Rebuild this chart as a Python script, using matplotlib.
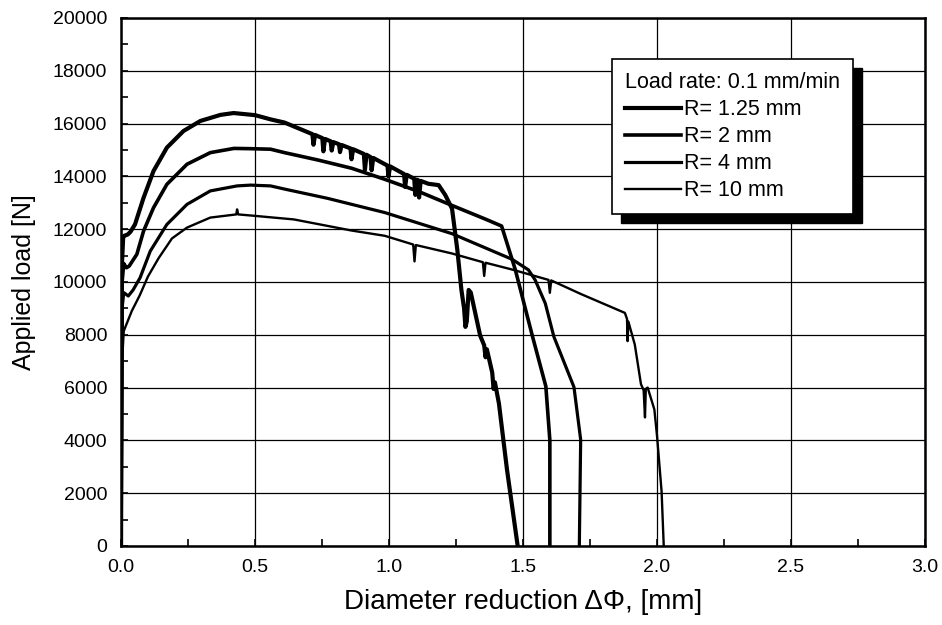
import matplotlib
matplotlib.use("Agg")
import matplotlib.pyplot as plt
from matplotlib.lines import Line2D
from matplotlib.patches import Rectangle
from matplotlib.transforms import IdentityTransform
from matplotlib.ticker import MultipleLocator

plt.rcParams['font.family'] = ['Liberation Sans', 'DejaVu Sans']

# ---- data ----
x_r125 = [0, 0.003, 0.008, 0.012, 0.025, 0.035, 0.052, 0.084, 0.121, 0.171, 0.233, 0.296,
          0.371, 0.42, 0.5, 0.558, 0.61, 0.674,
          0.714, 0.718, 0.724, 0.751, 0.755, 0.761, 0.782, 0.786, 0.792, 0.813, 0.817, 0.823,
          0.856, 0.86, 0.866, 0.906, 0.91, 0.916, 0.931, 0.935, 0.941, 0.994, 0.998, 1.004,
          1.056, 1.06, 1.066, 1.094, 1.098, 1.104, 1.108, 1.112, 1.118,
          1.147, 1.185, 1.21, 1.235, 1.255, 1.27, 1.28, 1.285, 1.29, 1.297, 1.305, 1.32,
          1.34, 1.355, 1.36, 1.365, 1.385, 1.39, 1.395, 1.41, 1.44, 1.48]
y_r125 = [0, 10600, 11700, 11750, 11800, 11900, 12180, 13190, 14200, 15090, 15720, 16100,
          16330, 16400, 16320, 16160, 16040, 15770,
          15600, 15200, 15570, 15450, 14950, 15420, 15330, 14980, 15300, 15220, 14920, 15190,
          15060, 14650, 15030, 14850, 14250, 14820, 14730, 14230, 14700, 14410, 14000, 14380,
          14090, 13600, 14060, 13910, 13300, 13880, 13860, 13200, 13830,
          13720, 13670, 13290, 12780, 11200, 9700, 9000, 8300, 8500, 9700, 9600, 8900,
          7970, 7600, 7150, 7450, 6570, 5950, 6200, 5400, 2900, 0]

x_r2 = [0, 0.004, 0.01, 0.02, 0.03, 0.059, 0.084, 0.121, 0.171, 0.246, 0.333, 0.421, 0.483,
        0.558, 0.61, 0.735, 0.86, 0.984, 1.11, 1.235, 1.36, 1.42, 1.471, 1.503, 1.535, 1.585,
        1.60, 1.60]
y_r2 = [0, 10000, 10700, 10540, 10600, 11050, 11930, 12810, 13700, 14460, 14900, 15060, 15050,
        15030, 14900, 14620, 14310, 13890, 13430, 12900, 12380, 12120, 10470, 9210, 7950, 6050,
        4010, 0]

x_r4 = [0, 0.004, 0.01, 0.027, 0.045, 0.071, 0.109, 0.171, 0.246, 0.333, 0.433, 0.483, 0.558,
        0.61, 0.77, 0.984, 1.235, 1.459, 1.52, 1.545, 1.583, 1.615, 1.69, 1.715, 1.71]
y_r4 = [0, 9000, 9600, 9470, 9700, 10160, 11170, 12180, 12940, 13450, 13640, 13670, 13640,
        13520, 13170, 12630, 11830, 10860, 10460, 10080, 9190, 7930, 6020, 4030, 0]

x_r10 = [0, 0.004, 0.01, 0.04, 0.07, 0.1, 0.14, 0.19, 0.246, 0.333, 0.43, 0.433, 0.437, 0.483,
         0.645, 0.86, 0.984, 1.09, 1.095, 1.10, 1.235, 1.35, 1.355, 1.36, 1.46, 1.595, 1.60,
         1.605, 1.717, 1.88, 1.888, 1.89, 1.893, 1.917, 1.94, 1.95, 1.955, 1.958, 1.965, 1.99,
         2.0, 2.017, 2.025]
y_r10 = [0, 7000, 8140, 8900, 9500, 10200, 10900, 11650, 12060, 12440, 12560, 12750, 12560,
         12520, 12370, 11950, 11750, 11420, 10780, 11400, 11080, 10750, 10230, 10730, 10470,
         10080, 9590, 10060, 9540, 8830, 8600, 7760, 8500, 7630, 6130, 5900, 4870, 5950, 6000,
         5170, 4160, 2060, 0]

series = [("R= 1.25 mm", x_r125, y_r125, 3.0),
          ("R= 2 mm", x_r2, y_r2, 2.6),
          ("R= 4 mm", x_r4, y_r4, 2.3),
          ("R= 10 mm", x_r10, y_r10, 1.7)]

legend_title = "Load rate: 0.1 mm/min"
x_label = "Diameter reduction \u0394\u03a6, [mm]"
y_label = "Applied load [N]"

# ---- figure ----
fig = plt.figure(figsize=(9.42, 6.25), dpi=100)
ax = fig.add_axes([0.1285, 0.1264, 0.8535, 0.8448])

for label, xs, ys, lw in series:
    ax.plot(xs, ys, color='black', lw=lw, label=label, solid_joinstyle='round', zorder=3)

ax.set_xlim(0, 3.0)
ax.set_ylim(0, 20000)
ax.xaxis.set_major_locator(MultipleLocator(0.5))
ax.xaxis.set_minor_locator(MultipleLocator(0.25))
ax.yaxis.set_major_locator(MultipleLocator(2000))
ax.yaxis.set_minor_locator(MultipleLocator(1000))
ax.xaxis.set_major_formatter(plt.FuncFormatter(lambda v, p: f"{v:.1f}"))
ax.yaxis.set_major_formatter(plt.FuncFormatter(lambda v, p: f"{int(v)}"))

ax.grid(True, which='major', color='black', lw=0.9, zorder=1)
ax.tick_params(which='both', direction='in', top=False, right=False, width=1.2)
ax.tick_params(which='major', length=5, labelsize=14)
ax.tick_params(axis='x', which='major', pad=9)
ax.tick_params(axis='y', which='major', pad=10)
ax.tick_params(which='minor', length=5)
for s in ax.spines.values():
    s.set_linewidth(1.8)

ax.set_xlabel(x_label, fontsize=20, labelpad=10)
ax.set_ylabel(y_label, fontsize=18, labelpad=12)

handles = [Line2D([0], [0], color='black', lw=lw) for _, _, _, lw in series]
labels = [s[0] for s in series]
leg = ax.legend(handles, labels, title=legend_title, loc='upper left',
                bbox_to_anchor=(0.611, 0.922), fontsize=15.5, title_fontsize=15.5,
                frameon=True, fancybox=False, framealpha=1, edgecolor='black',
                handlelength=2.6, handletextpad=0.12, labelspacing=0.28,
                borderpad=0.6, borderaxespad=0)
leg._legend_box.align = "left"
leg.get_frame().set_linewidth(1.2)
leg.set_zorder(6)

fig.canvas.draw()
bb = leg.get_frame().get_window_extent()
shadow = Rectangle((bb.x0 + 9, bb.y0 - 9), bb.width, bb.height,
                   transform=IdentityTransform(), facecolor='black',
                   edgecolor='black', zorder=5, clip_on=False)
ax.add_patch(shadow)

fig.savefig("out.png", dpi=100)
